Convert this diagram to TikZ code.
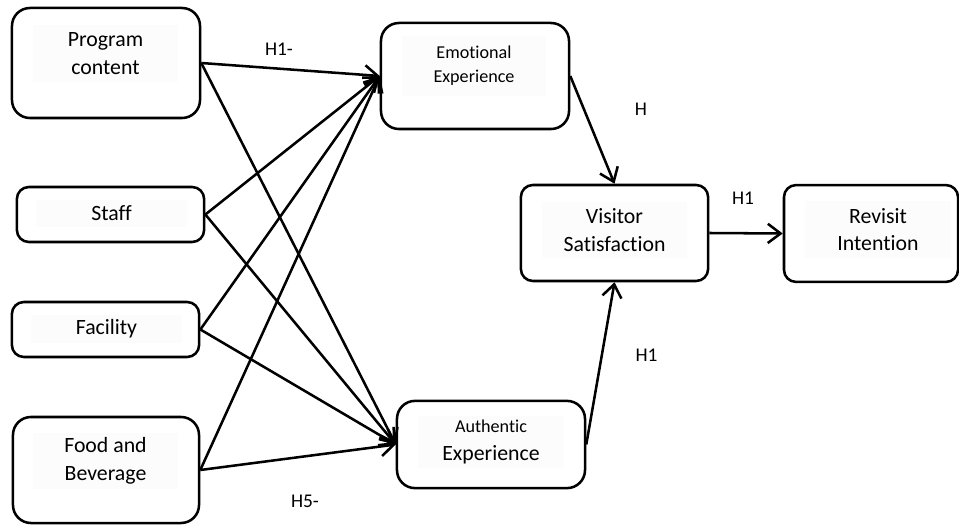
\documentclass[tikz,border=0pt]{standalone}
\usepackage{fontspec}
\setmainfont{Carlito}[Ligatures=NoCommon]
\usetikzlibrary{arrows.meta}

\begin{document}
\begin{tikzpicture}[x=0.025cm,y=-0.025cm,
  font=\fontsize{15.5}{19.5}\selectfont,
  box/.style={rectangle,rounded corners=4.5mm,draw=black,line width=1.8pt,fill=white,inner sep=0pt},
  boxs/.style={box,rounded corners=3mm},
  txt/.style={rectangle,fill=black!1,align=center,inner sep=0pt,minimum width=3.6cm},
  small/.style={font=\fontsize{12.9}{17}\selectfont},
  hyp/.style={font=\fontsize{13.8}{16}\selectfont},
  arr/.style={-{Straight Barb[length=3.2mm,width=4.8mm,line width=1.8pt]},line width=1.8pt}
]
\useasboundingbox (0,0) rectangle (959,525);
% antecedents
\node[box,minimum width=4.7cm,minimum height=2.75cm] (prog) at (106,63) {};
\node[boxs,minimum width=4.68cm,minimum height=1.375cm] (staff) at (110.5,214.5) {};
\node[boxs,minimum width=4.68cm,minimum height=1.375cm] (fac) at (105.5,329.5) {};
\node[box,minimum width=4.65cm,minimum height=2.65cm] (food) at (106,470) {};
% mediators and outcomes
\node[box,minimum width=4.7cm,minimum height=2.65cm] (emo) at (475,76) {};
\node[box,minimum width=4.7cm,minimum height=2.18cm] (auth) at (491,444.5) {};
\node[boxs,minimum width=4.68cm,minimum height=2.4cm] (vis) at (614.5,233) {};
\node[boxs,minimum width=4.35cm,minimum height=2.42cm] (rev) at (871,233.5) {};
% texts
\node[txt,minimum height=1.43cm] (progt) at (105.5,53.5) {Program\\content};
\node[txt,minimum height=0.68cm,minimum width=3.78cm] (stafft) at (111.5,213.5) {Staff};
\node[txt,minimum height=0.7cm,minimum width=3.78cm] (fact) at (106.5,329) {Facility};
\node[txt,minimum height=1.38cm] (foodt) at (105.5,461) {Food and\\Beverage};
\node[txt,small,minimum height=1.5cm] (emot) at (474,66) {Emotional\\Experience};
\node[txt,minimum height=1.3cm,minimum width=3.65cm] (autht) at (491,442) {{\fontsize{12.9}{17}\selectfont Authentic}\\Experience};
\node[txt,minimum height=1.38cm,minimum width=3.63cm] (vist) at (614.5,230) {Visitor\\Satisfaction};
\node[txt,minimum height=1.4cm,minimum width=3.65cm] (revt) at (878,229.5) {Revisit\\Intention};
% paths
\foreach \s in {prog,staff,fac,food}{
  \draw[arr] (\s.east) -- (emo.west);
  \draw[arr] (\s.east) -- (auth.west);
}
\draw[arr] (emo.east) -- (vis.north);
\draw[arr] (auth.east) -- (vis.south);
\draw[arr] (vis.east) -- (rev.west);
% hypotheses
\node[hyp] (h1a) at (279,49) {H1-};
\node[hyp] (h5) at (305,501) {H5-};
\node[hyp] (hx) at (641,109) {H};
\node[hyp] (h1b) at (646.5,355) {H1};
\node[hyp] (h1c) at (743,198.5) {H1};
\end{tikzpicture}
\end{document}
